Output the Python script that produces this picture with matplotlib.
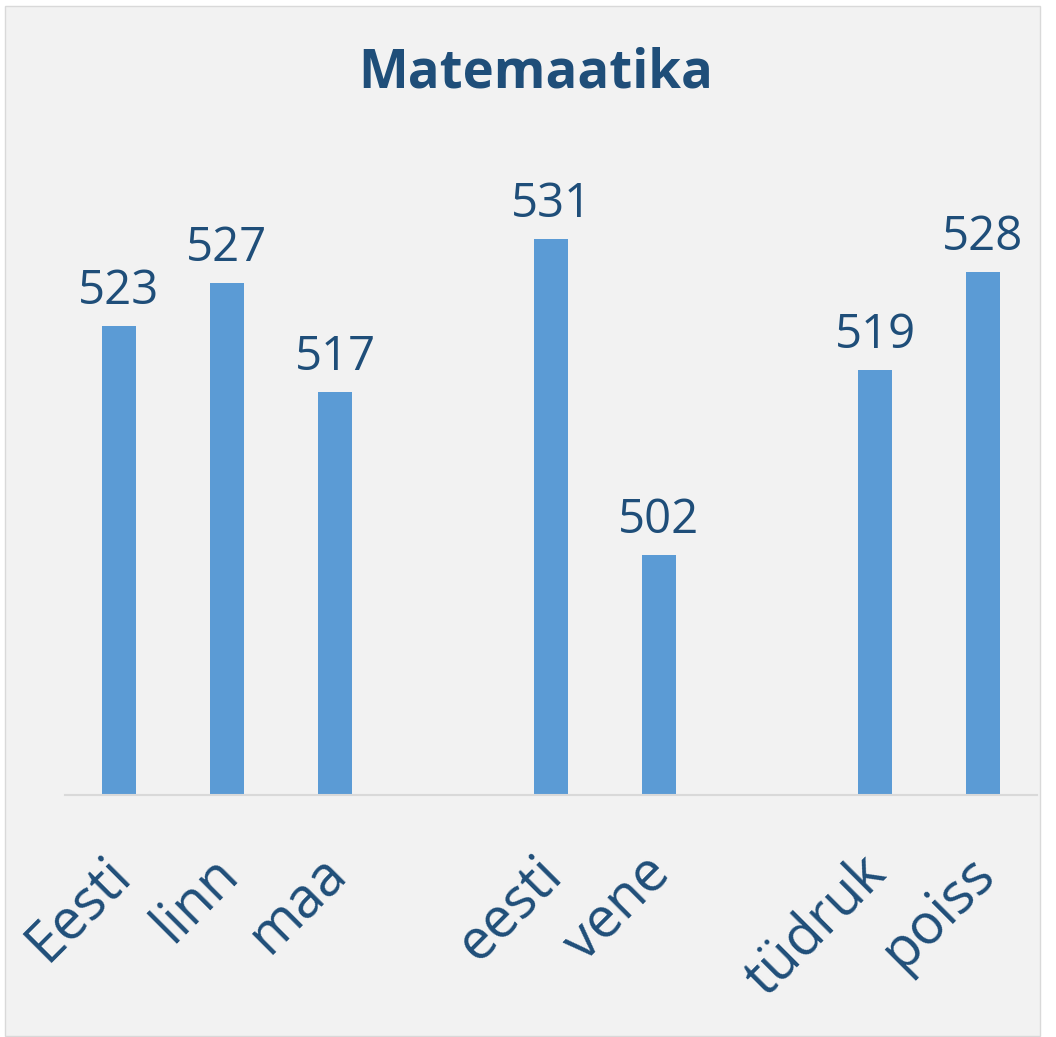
import matplotlib
matplotlib.use("Agg")
import matplotlib.pyplot as plt
from matplotlib.patches import Rectangle
from matplotlib.transforms import ScaledTranslation

# Andmed: kolm gruppi, gruppide vahel üks tühi koht
grupp_kohad = ["Eesti", "linn", "maa"]
grupp_keel = ["eesti", "vene"]
grupp_sugu = ["tüdruk", "poiss"]
tulemus_kohad = [523, 527, 517]
tulemus_keel = [531, 502]
tulemus_sugu = [519, 528]

pealkiri = "Matemaatika"

# Värvid
tulp_varv = "#5B9BD5"
tekst_varv = "#1F4E79"
taust_varv = "#F2F2F2"

plt.rcParams["font.family"] = ["Open Sans", "DejaVu Sans"]

# Positsioonid: grupid järjest, vahele üks tühi koht
sildid, vaartused, asukohad = [], [], []
pos = 0
for nimed, arvud in [(grupp_kohad, tulemus_kohad), (grupp_keel, tulemus_keel), (grupp_sugu, tulemus_sugu)]:
    for n, v in zip(nimed, arvud):
        sildid.append(n)
        vaartused.append(v)
        asukohad.append(pos)
        pos += 1
    pos += 1

fig = plt.figure(figsize=(10.56, 10.37), dpi=100, facecolor="white")
# Diagrammi taust koos raamiga
fig.patches.append(Rectangle((5 / 1056, 1 - 1036 / 1037), 1035 / 1056, 1030 / 1037,
                             transform=fig.transFigure, facecolor=taust_varv,
                             edgecolor="#D9D9D9", linewidth=1, zorder=-5))

ax = fig.add_axes([65 / 1056, 0.2334, (1037 - 65) / 1056, 0.6306])
ax.set_facecolor("none")
ax.set_zorder(2)

alus = 480
tulbad = ax.bar(asukohad, [v - alus for v in vaartused], bottom=alus, width=0.315,
                color=tulp_varv, zorder=2)

for x, v in zip(asukohad, vaartused):
    ax.annotate(str(v), (x, v), xytext=(0, 8), textcoords="offset points",
                ha="center", va="bottom", fontsize=34, color=tekst_varv)

ax.set_xlim(-0.5, pos - 1.5)
ax.set_ylim(alus, 540)

for s in ["top", "right", "left"]:
    ax.spines[s].set_visible(False)
ax.spines["bottom"].set_color("#D9D9D9")
ax.spines["bottom"].set_linewidth(1.5)
ax.set_yticks([])
ax.set_xticks(asukohad)
ax.set_xticklabels(sildid, rotation=45, ha="right", va="top", rotation_mode="anchor",
                   fontsize=40, color=tekst_varv)
ax.tick_params(axis="x", length=0, pad=38)
# nihuta silte veidi vasakule
nihe = ScaledTranslation(-0.17, 0.02, fig.dpi_scale_trans)
for silt in ax.get_xticklabels():
    silt.set_transform(silt.get_transform() + nihe)

fig.text(536 / 1056, 1 - 73 / 1037, pealkiri, ha="center", va="center", fontsize=38,
         fontweight="bold", color=tekst_varv)

fig.savefig("out.png", dpi=100, facecolor=fig.get_facecolor())
